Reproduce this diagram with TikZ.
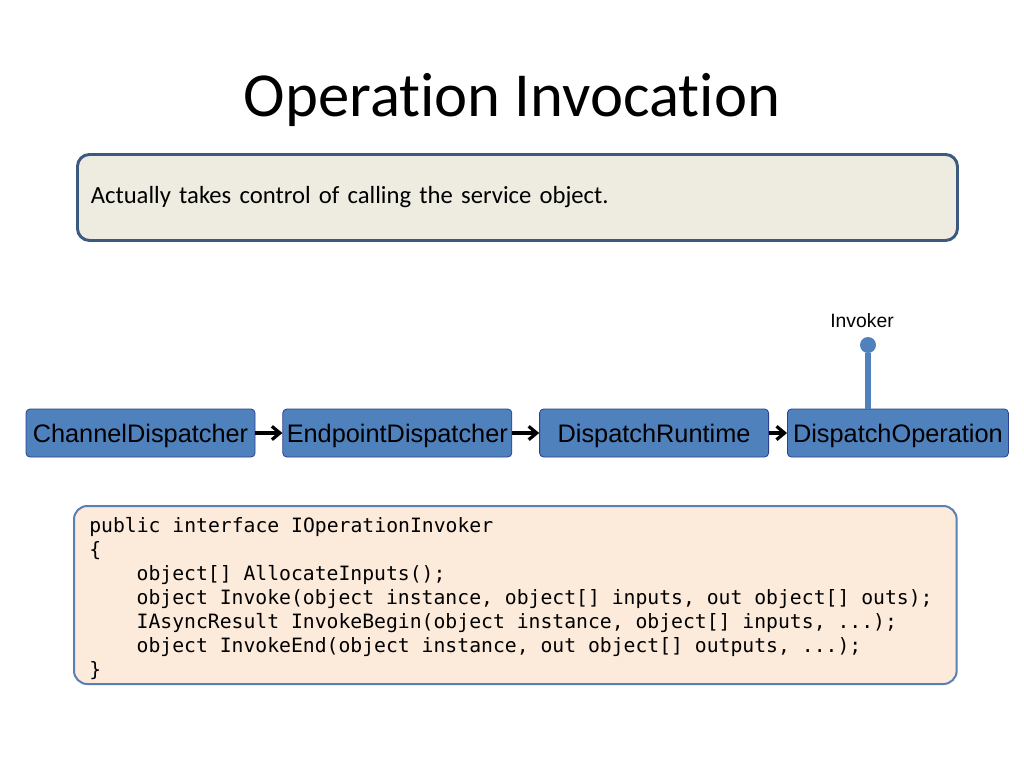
\documentclass[tikz,border=0pt]{standalone}
\usepackage{fontspec}
\setmainfont{Carlito}[Ligatures=NoCommon]
\setmonofont{DejaVu Sans Mono}
\newfontfamily\arialfont{Liberation Sans}
\usetikzlibrary{positioning,arrows.meta}
\definecolor{boxblue}{HTML}{4F81BD}
\definecolor{boxline}{HTML}{2E3F8F}
\definecolor{notefill}{HTML}{EEECE1}
\definecolor{noteline}{HTML}{3C5A80}
\definecolor{codefill}{HTML}{FCEADB}
\definecolor{codeline}{HTML}{5A7FB5}
\begin{document}
\begin{tikzpicture}[x=0.75pt,y=-0.75pt,
  stufe/.style={rectangle,rounded corners=3pt,fill=boxblue,draw=boxline,line width=0.6pt,
    minimum width=171.75pt,minimum height=36pt,inner sep=0pt,text depth=0pt,
    font=\arialfont\fontsize{19}{22}\selectfont},
  pfeil/.style={line width=2.8pt,-{Straight Barb[length=6pt,width=10pt,line width=2.4pt]}}]
  \useasboundingbox (0,0) rectangle (1024,768);
  \node[font=\fontsize{47}{56}\selectfont] (titel) at (512,100) {Operation Invocation};
  \node[rectangle,rounded corners=9pt,fill=notefill,draw=noteline,line width=2.2pt,
    minimum width=660pt,minimum height=64.5pt,anchor=north west,
    text width=640pt,align=left,font=\fontsize{18.5}{22}\selectfont] (notiz) at (76,153)
    {Actually takes control of calling the service object.};
  \node[stufe] (s0) at (140.5,433) {ChannelDispatcher};
  \node[stufe,right=20.25pt of s0] (s1) {EndpointDispatcher};
  \node[stufe,right=20.25pt of s1] (s2) {DispatchRuntime};
  \node[stufe,minimum width=165.75pt,right=13.5pt of s2] (s3) {DispatchOperation};
  \path[pfeil]
    (s0) edge (s1)
    (s1) edge (s2)
    (s2) edge (s3);
  \node[circle,fill=boxblue,minimum size=12pt,inner sep=0pt] (punkt) at (868,345) {};
  \node[font=\arialfont\fontsize{14.5}{17}\selectfont] (invoker) at (862,321) {Invoker};
  \draw[boxblue,line width=4pt] (punkt) -- (s3.north -| punkt);
  \node[rectangle,rounded corners=10pt,fill=codefill,draw=codeline,line width=1.5pt,
    minimum width=662pt,minimum height=133.5pt,anchor=north west] (code) at (73,505) {};
  \node[anchor=north west,align=left,inner sep=0pt,
    font=\ttfamily\fontsize{14.8}{18}\selectfont] (quelltext) at (89,517)
    {public interface IOperationInvoker\\
     \{\\
     \hspace*{2.4em}object[] AllocateInputs();\\
     \hspace*{2.4em}object Invoke(object instance, object[] inputs, out object[] outs);\\
     \hspace*{2.4em}IAsyncResult InvokeBegin(object instance, object[] inputs, ...);\\
     \hspace*{2.4em}object InvokeEnd(object instance, out object[] outputs, ...);\\
     \}};
\end{tikzpicture}
\end{document}
